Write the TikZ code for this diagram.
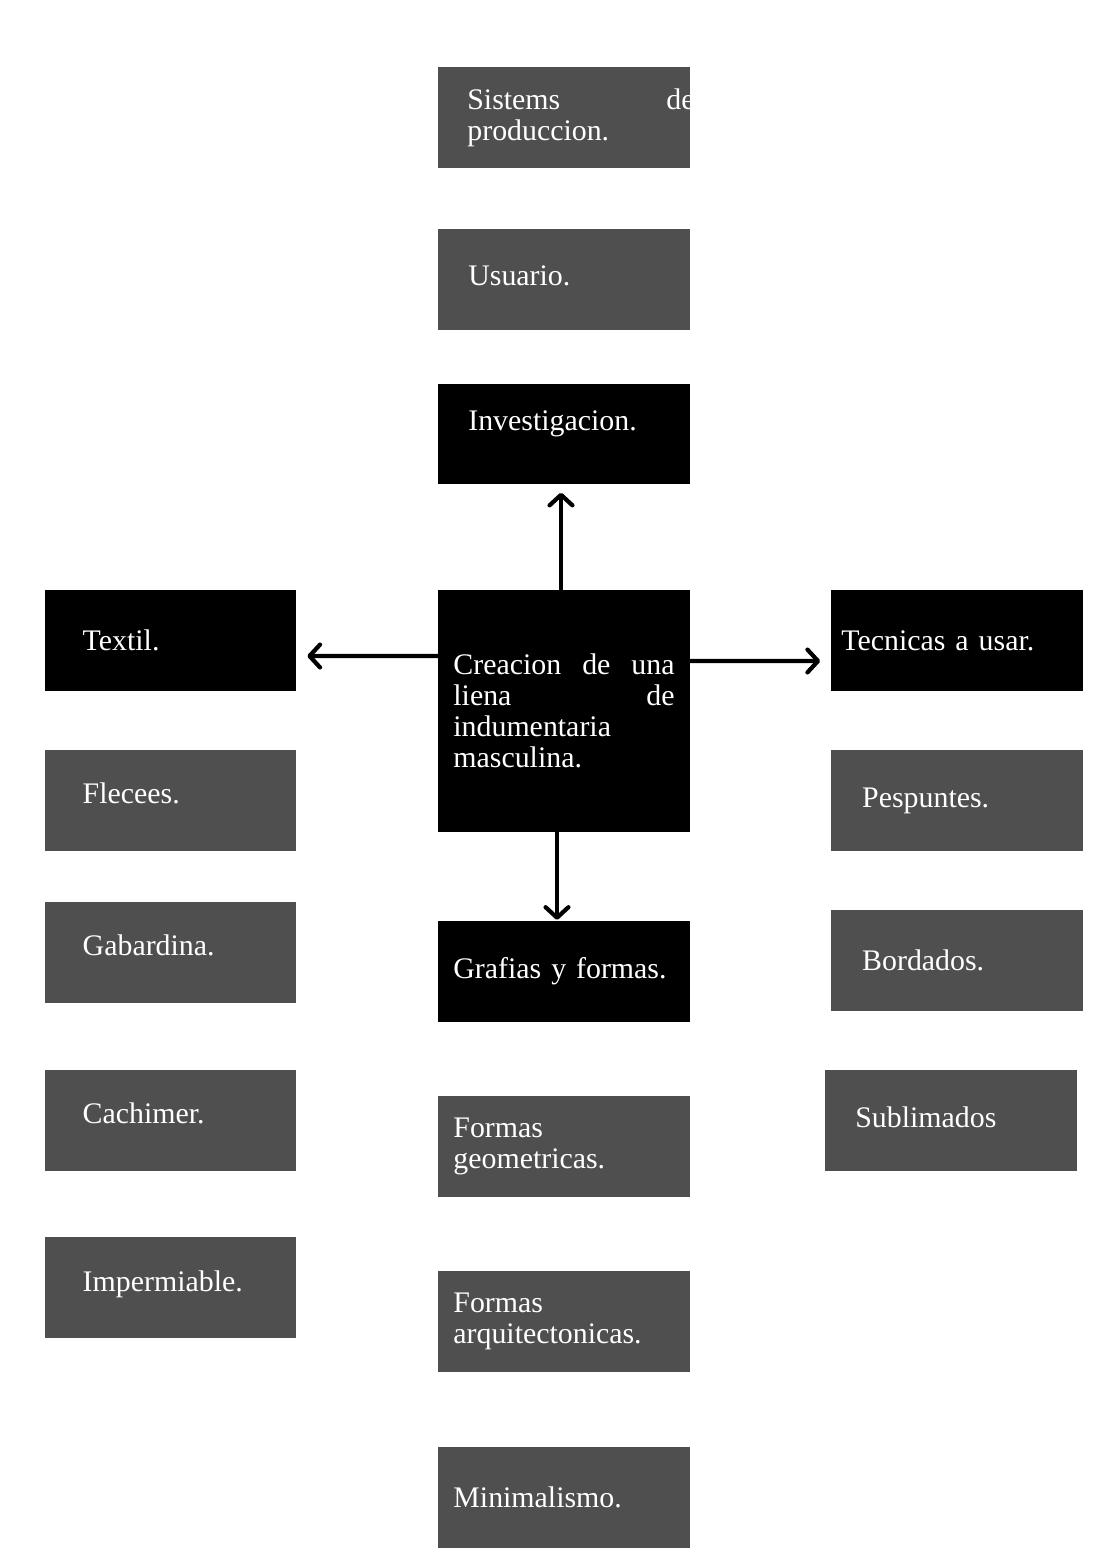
\documentclass[tikz,border=0pt]{standalone}
\usepackage{fontspec}
\setmainfont{Liberation Serif}
\usetikzlibrary{arrows.meta}
\definecolor{boxgray}{RGB}{79,79,79}

\tikzset{
	box/.style={rectangle, minimum width=142.9pt, minimum height=57.3pt, inner ysep=0pt, text=white, font=\fontsize{17}{17.6}\selectfont},
	graybox/.style={box, fill=boxgray},
	blackbox/.style={box, fill=black},
	pad/.style 2 args={inner xsep=#1, text width=#2, align=left},
	lift/.style={text depth=#1},
	link/.style={line width=2.4pt, -{Straight Barb[length=6pt,width=13pt,round]}}
}

\begin{document}
\begin{tikzpicture}[x=0.02cm, y=-0.02cm]
	\useasboundingbox (0,0) rectangle (1115,1560);

	%Centre column
	\node[graybox, pad={16.4pt}{110pt}] (sis) at (564,117.5) {\makebox[129.3pt][l]{Sistems\hfill de}\\produccion.};
	\node[graybox, pad={17pt}{108.9pt}, lift=4.6pt] (usu) at (564,279.5) {Usuario.};
	\node[blackbox, pad={17pt}{108.9pt}, lift=15pt] (inv) at (564,434) {Investigacion.};
	\node[blackbox, minimum height=137.2pt, pad={8.5pt}{125.9pt}] (ctr) at (564,711) {Creacion\hfill de\hfill una\\liena\hfill de\\indumentaria\\masculina.};
	\node[blackbox, pad={8.5pt}{125.9pt}] (gra) at (564,971.5) {Grafias y formas.};
	\node[graybox, pad={8.5pt}{125.9pt}] (geo) at (564,1146.5) {Formas\\geometricas.};
	\node[graybox, pad={8.5pt}{125.9pt}] (arq) at (564,1321.5) {Formas\\arquitectonicas.};
	\node[graybox, pad={8.5pt}{125.9pt}] (mini) at (564,1497.5) {Minimalismo.};

	%Left column
	\node[blackbox, pad={21.5pt}{99.9pt}] (tex) at (170.5,640.5) {Textil.};
	\node[graybox, pad={21.5pt}{99.9pt}, lift=8pt] (fle) at (170.5,800.5) {Flecees.};
	\node[graybox, pad={21.5pt}{99.9pt}, lift=8pt] (gab) at (170.5,952.5) {Gabardina.};
	\node[graybox, pad={21.5pt}{99.9pt}, lift=8pt] (cac) at (170.5,1120.5) {Cachimer.};
	\node[graybox, pad={21.5pt}{99.9pt}, lift=7pt] (imp) at (170.5,1287.5) {Impermiable.};

	%Right column
	\node[blackbox, pad={5.7pt}{131.5pt}] (tec) at (957,640.5) {Tecnicas a usar.};
	\node[graybox, pad={17.5pt}{107.9pt}] (pes) at (957,800.5) {Pespuntes.};
	\node[graybox, pad={17.5pt}{107.9pt}] (bor) at (957,960.5) {Bordados.};
	\node[graybox, pad={17pt}{108.9pt}, lift=3.4pt] (sub) at (951,1120.5) {Sublimados};

	%Arrows
	\draw[link] ([xshift=-0.06cm]ctr.north) -- ([xshift=-0.06cm, yshift=-0.16cm]inv.south);
	\draw[link] ([yshift=1.1cm]ctr.west) -- ([xshift=0.22cm, yshift=-0.31cm]tex.east);
	\draw[link] ([yshift=1.0cm]ctr.east) -- ([xshift=-0.22cm, yshift=-0.41cm]tec.west);
	\draw[link] ([xshift=-0.14cm]ctr.south) -- ([xshift=-0.14cm, yshift=0.02cm]gra.north);
\end{tikzpicture}
\end{document}
